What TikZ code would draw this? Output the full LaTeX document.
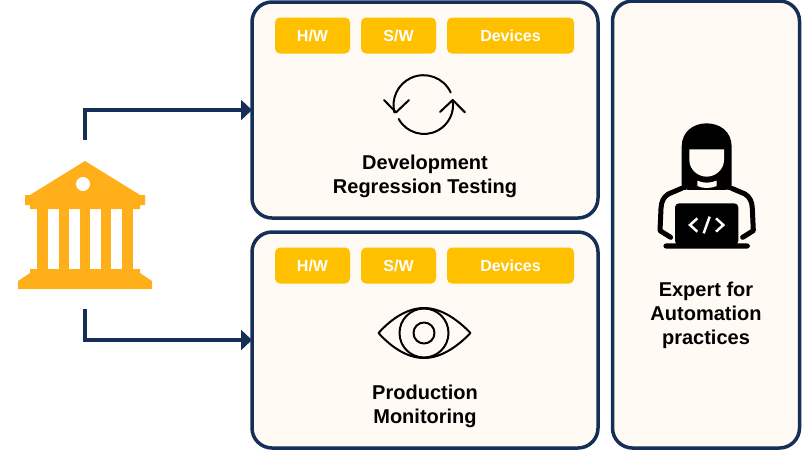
\documentclass[tikz,border=0pt]{standalone}
\usepackage{fontspec}
\setmainfont{Liberation Sans}
\usetikzlibrary{arrows.meta, positioning}
\definecolor{panelnavy}{HTML}{152F57}
\definecolor{panelcream}{HTML}{FFFAF3}
\definecolor{chipgold}{HTML}{FFC000}
\definecolor{bankgold}{HTML}{FFAF19}
\tikzset{
  panelbox/.style={draw=panelnavy, fill=panelcream, line width=3.5pt, rounded corners=20pt, outer sep=0pt},
  chipbox/.style={fill=chipgold, rounded corners=5pt, minimum height=36pt, text=white, font=\fontsize{16}{16}\selectfont\bfseries, inner sep=0pt},
  paneltext/.style={align=center, font=\fontsize{20}{24}\selectfont\bfseries, inner sep=0pt},
  feedline/.style={draw=panelnavy, line width=3.5pt, -{Triangle[length=11pt,width=20pt]}},
  iconline/.style={draw=black, line width=2pt, line cap=round, line join=round}
}
\begin{document}
\begin{tikzpicture}[x=1pt, y=-1pt]
    \useasboundingbox (0, 0) rectangle (802, 451);

    \node [panelbox, minimum width=346pt, minimum height=216pt] (devbox) at (425, 110) {};
    \node [panelbox, minimum width=346pt, minimum height=216pt] (prodbox) at (425, 340) {};
    \node [panelbox, minimum width=187pt, minimum height=447pt] (expertbox) at (706, 224.5) {};

    \node [chipbox, minimum width=75pt] (devhw) at (312.5, 35.5) {H/W};
    \node [chipbox, minimum width=75pt] (devsw) at (398.5, 35.5) {S/W};
    \node [chipbox, minimum width=127pt] (devdev) at (510.5, 35.5) {Devices};
    \node [chipbox, minimum width=75pt] (prodhw) at (312.5, 265.5) {H/W};
    \node [chipbox, minimum width=75pt] (prodsw) at (398.5, 265.5) {S/W};
    \node [chipbox, minimum width=127pt] (proddev) at (510.5, 265.5) {Devices};

    \node [paneltext] (devtext) at (425, 176) {Development\\Regression Testing};
    \node [paneltext] (prodtext) at (425, 406) {Production\\Monitoring};
    \node [paneltext] (experttext) at (706, 315) {Expert for\\Automation\\practices};

    % bank
    \fill[bankgold] (85, 161) -- (140, 195) -- (145, 195) -- (145, 205) -- (140, 205) -- (140, 209)
        -- (30, 209) -- (30, 205) -- (25, 205) -- (25, 195) -- (30, 195) -- cycle;
    \fill[bankgold] (37, 209) rectangle (48, 270);
    \fill[bankgold] (59, 209) rectangle (69, 270);
    \fill[bankgold] (80, 209) rectangle (90, 270);
    \fill[bankgold] (101, 209) rectangle (111, 270);
    \fill[bankgold] (122, 209) rectangle (133, 270);
    \fill[bankgold] (30, 269) -- (140, 269) -- (140, 273) -- (152, 281) -- (152, 289) -- (18, 289) -- (18, 281) -- (30, 273) -- cycle;
    \fill[white] (83, 184) circle (7);

    \coordinate (bankup) at (85, 140);
    \coordinate (bankdown) at (85, 309);
    \draw[feedline] (bankup) |- (devbox.west);
    \draw[feedline] (bankdown) |- (prodbox.west);

    % cycle
    \draw[iconline] (450.7, 92.5) arc[start angle=-25, end angle=-194, radius=30];
    \draw[iconline] (398.7, 119) arc[start angle=151, end angle=-10, radius=29];
    \draw[iconline] (384, 100) -- (396, 112.4) -- (409, 100);
    \draw[iconline] (440, 112) -- (452.7, 100) -- (465, 112.4);

    % eye
    \draw[iconline] (378.5, 333) .. controls (392, 318) and (408, 308) .. (424, 308)
        .. controls (440, 308) and (456, 318) .. (470.5, 333)
        .. controls (456, 348) and (440, 358) .. (424, 358)
        .. controls (408, 358) and (392, 348) .. (378.5, 333) -- cycle;
    \draw[iconline] (424, 333) circle (24.5);
    \draw[iconline] (424, 333) circle (10.5);

    % expert
    \begin{scope}[shift={(640, 110)}, x=0.3333pt, y=-0.3333pt]
        \fill[black] (125, 240) -- (125, 110) .. controls (125, 65) and (160, 40) .. (200, 40)
            .. controls (240, 40) and (275, 65) .. (275, 110) -- (275, 240) -- (235, 240) -- (165, 240) -- cycle;
        \fill[panelcream] (148, 118) -- (252, 118) -- (252, 150) .. controls (252, 180) and (225, 200) .. (200, 200)
            .. controls (175, 200) and (148, 180) .. (148, 150) -- cycle;
        \fill[panelcream] (172, 212) .. controls (190, 220) and (210, 220) .. (230, 212) -- (230, 228) .. controls (210, 236) and (190, 236) .. (172, 228) -- cycle;
        \draw[black, line width=5pt, line join=round, line cap=round] (125, 235) -- (85, 252) .. controls (70, 262) and (64, 275) .. (63, 295)
            -- (60, 362) -- (92, 382);
        \draw[black, line width=5pt, line join=round, line cap=round] (275, 235) -- (315, 252) .. controls (330, 262) and (336, 275) .. (337, 295)
            -- (340, 362) -- (308, 382);
        \fill[panelcream] (138, 238) .. controls (170, 255) and (230, 255) .. (262, 238) -- (262, 246) -- (138, 246) -- cycle;
        \fill[black, rounded corners=4pt] (105, 280) -- (295, 280) -- (295, 405) -- (105, 405) -- cycle;
        \fill[black, rounded corners=3pt] (70, 400) rectangle (330, 416);
        \draw[panelcream, line width=2.5pt, line join=miter] (172, 325) -- (150, 345) -- (172, 365);
        \draw[panelcream, line width=2.5pt, line join=miter] (228, 325) -- (250, 345) -- (228, 365);
        \draw[panelcream, line width=2.5pt] (209, 320) -- (191, 370);
    \end{scope}
\end{tikzpicture}
\end{document}
